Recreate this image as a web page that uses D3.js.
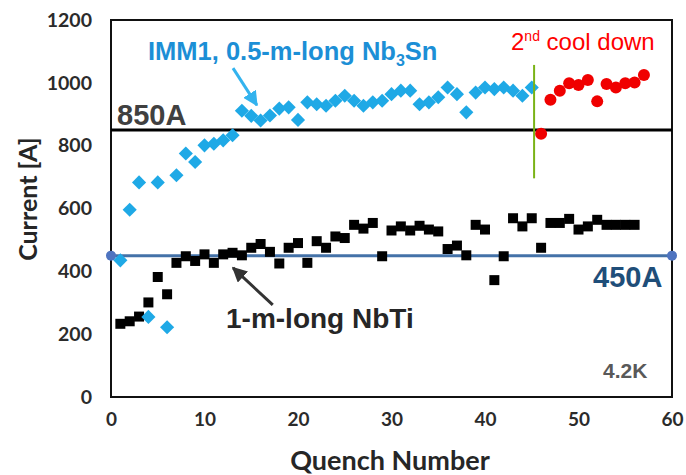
<!DOCTYPE html>
<html><head><meta charset="utf-8">
<script src="https://cdn.jsdelivr.net/npm/d3@7"></script>
<style>body{margin:0;background:#fff;} svg{display:block;}</style>
</head><body><svg id="c" width="686" height="475"></svg>
<script>
// ---- data ----
const nb3snQuench = [1,2,3,4,5,6,7,8,9,10,11,12,13,14,15,16,17,18,19,20,21,22,23,24,25,26,27,28,29,30,31,32,33,34,35,36,37,38,39,40,41,42,43,44,45];
const nb3snCurrent = [435,596,683,255,683,222,706,775,748,801,806,817,833,911,895,880,896,918,922,882,938,932,927,943,959,943,927,938,943,964,975,975,932,938,954,985,964,906,969,985,980,985,975,959,985];
const cool2Quench = [46,47,48,49,50,51,52,53,54,55,56,57];
const cool2Current = [838,946,975,999,993,1009,941,996,985,999,1001,1025];
const nbtiQuench = [1,2,3,4,5,6,7,8,9,10,11,12,13,14,15,16,17,18,19,20,21,22,23,24,25,26,27,28,29,30,31,32,33,34,35,36,37,38,39,40,41,42,43,44,45,46,47,48,49,50,51,52,53,54,55,56];
const nbtiCurrent = [233,241,256,301,382,327,427,448,433,454,427,454,459,451,475,487,462,425,475,490,427,496,475,511,506,548,536,554,448,530,543,530,545,533,527,471,482,451,548,533,372,448,569,543,569,475,554,554,567,533,543,564,548,548,548,548];
const xTicks = [0,10,20,30,40,50,60];
const yTicks = [0,200,400,600,800,1000,1200];
const limitLines = [850, 450];
const cooldownX = 45.25;
const cooldownRange = [696, 1057];

// ---- layout ----
const W = 686, H = 475;
const m = {left:111, top:20, right:14, bottom:78};
const svg = d3.select('#c');
const x = d3.scaleLinear().domain([0,60]).range([m.left, W - m.right]);
const y = d3.scaleLinear().domain([0,1200]).range([H - m.bottom, m.top]);

const tickFont = 'Lato, "Open Sans", sans-serif';
const annFont = '"Liberation Sans", Arial, sans-serif';

// axes (labels only)
const xAxis = d3.axisBottom(x).tickValues(xTicks).tickFormat(d3.format('d')).tickSize(0).tickPadding(16);
const gx = svg.append('g').attr('transform', `translate(0,${H - m.bottom})`).call(xAxis);
gx.select('.domain').remove();
gx.selectAll('text').attr('font-family', tickFont).attr('font-weight', 700).attr('font-size', 19).attr('fill', '#2b2b2b');

const yAxis = d3.axisLeft(y).tickValues(yTicks).tickFormat(d3.format('d')).tickSize(0).tickPadding(19);
const gy = svg.append('g').attr('transform', `translate(${m.left},0)`).call(yAxis);
gy.select('.domain').remove();
gy.selectAll('text').attr('font-family', tickFont).attr('font-weight', 700).attr('font-size', 19.5).attr('fill', '#2b2b2b');

// axis titles
svg.append('text').attr('x', 390).attr('y', 470).attr('text-anchor','middle')
  .attr('font-family', tickFont).attr('font-size', 27).attr('font-weight', 700).attr('fill','#262626').text('Quench Number');
svg.append('text').attr('transform', `translate(37,${y(630)}) rotate(-90)`).attr('text-anchor','middle')
  .attr('font-family', tickFont).attr('font-size', 25).attr('font-weight', 700).attr('fill','#262626').text('Current [A]');

// frame
svg.append('rect').attr('x', x(0)).attr('y', y(1200)).attr('width', x(60)-x(0)).attr('height', y(0)-y(1200))
  .attr('fill','none').attr('stroke','#111').attr('stroke-width',2);

// limit lines
svg.append('line').attr('x1', x(0)).attr('x2', x(60)).attr('y1', y(limitLines[0])).attr('y2', y(limitLines[0]))
  .attr('stroke','#000').attr('stroke-width',3);
svg.append('line').attr('x1', x(0)).attr('x2', x(60)).attr('y1', y(limitLines[1])).attr('y2', y(limitLines[1]))
  .attr('stroke','#4472a8').attr('stroke-width',3);
svg.selectAll('circle.end').data([0,60]).join('circle').attr('class','end')
  .attr('cx', d => x(d)).attr('cy', y(limitLines[1])).attr('r', 5).attr('fill','#4f74c0');

// series
const nbti = nbtiQuench.map((q,i) => ({q, v: nbtiCurrent[i]}));
const nb3sn = nb3snQuench.map((q,i) => ({q, v: nb3snCurrent[i]}));
const cool2 = cool2Quench.map((q,i) => ({q, v: cool2Current[i]}));

svg.append('g').selectAll('path').data(nbti).join('path')
  .attr('d', d3.symbol(d3.symbolSquare, 100))
  .attr('transform', d => `translate(${x(d.q)},${y(d.v)})`).attr('fill','#000');

svg.append('g').selectAll('path').data(nb3sn).join('path')
  .attr('d', d3.symbol(d3.symbolSquare, 100))
  .attr('transform', d => `translate(${x(d.q)},${y(d.v)}) rotate(45)`).attr('fill','#1fa9e6');

svg.append('g').selectAll('circle').data(cool2).join('circle')
  .attr('cx', d => x(d.q)).attr('cy', d => y(d.v)).attr('r', 6).attr('fill','#f00000');

// cooldown marker
svg.append('line').attr('x1', x(cooldownX)).attr('x2', x(cooldownX))
  .attr('y1', y(cooldownRange[0])).attr('y2', y(cooldownRange[1]))
  .attr('stroke','#7ab317').attr('stroke-width',2);

// arrows
const defs = svg.append('defs');
function marker(id, color){
  defs.append('marker').attr('id', id).attr('viewBox','0 0 10 10').attr('refX',9).attr('refY',5)
    .attr('markerWidth',5).attr('markerHeight',5).attr('orient','auto')
    .append('path').attr('d','M0,0 L10,5 L0,10 z').attr('fill', color);
}
marker('ab','#33b3ee'); marker('ak','#333');
svg.append('line').attr('x1', x(13.05)).attr('y1', y(1047)).attr('x2', x(15.6)).attr('y2', y(929))
  .attr('stroke','#33b3ee').attr('stroke-width',3).attr('marker-end','url(#ab)');
svg.append('line').attr('x1', x(17.3)).attr('y1', y(293)).attr('x2', x(13.05)).attr('y2', y(411))
  .attr('stroke','#333').attr('stroke-width',3).attr('marker-end','url(#ak)');

// annotations
const t1 = svg.append('text').attr('x', 148).attr('y', 60).attr('font-family', annFont).attr('font-weight',700)
  .attr('font-size', 25.5).attr('fill','#1c8fd6');
t1.append('tspan').text('IMM1, 0.5-m-long Nb');
t1.append('tspan').attr('font-size', 16).attr('dy', 6).text('3');
t1.append('tspan').attr('dy', -6).text('Sn');

const t2 = svg.append('text').attr('x', 511).attr('y', 50).attr('font-family', annFont)
  .attr('font-size', 24).attr('fill','#ff0000');
t2.append('tspan').text('2');
t2.append('tspan').attr('font-size', 14).attr('dy', -9).text('nd');
t2.append('tspan').attr('dy', 9).text(' cool down');

svg.append('text').attr('x', 117).attr('y', 125).attr('font-family', annFont).attr('font-weight',700)
  .attr('font-size', 29).attr('fill','#404040').text('850A');
svg.append('text').attr('x', 593).attr('y', 287).attr('font-family', annFont).attr('font-weight',700)
  .attr('font-size', 29).attr('fill','#1f4e79').text('450A');
svg.append('text').attr('x', 226).attr('y', 328).attr('font-family', annFont).attr('font-weight',700)
  .attr('font-size', 28).attr('fill','#262626').text('1-m-long NbTi');
svg.append('text').attr('x', 603).attr('y', 378).attr('font-family', annFont).attr('font-weight',700)
  .attr('font-size', 21).attr('fill','#595959').text('4.2K');
</script></body></html>
